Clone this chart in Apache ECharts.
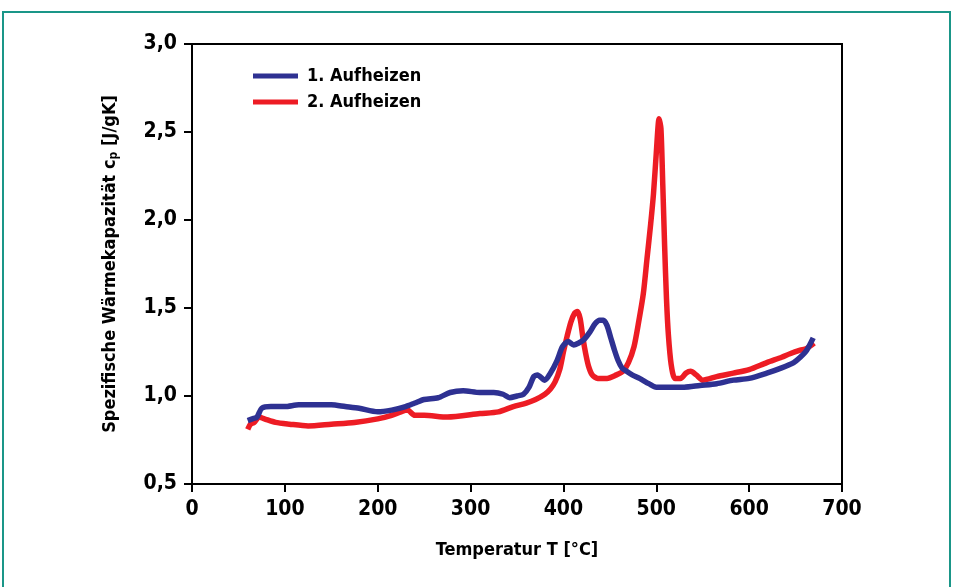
<!DOCTYPE html>
<html>
<head>
<meta charset="utf-8">
<script src="https://cdn.jsdelivr.net/npm/echarts@6/dist/echarts.min.js"></script>
<style>
  html, body { margin: 0; padding: 0; background: #ffffff; }
  #chart { width: 954px; height: 587px; }
</style>
</head>
<body>
<div id="chart"></div>
<script>
// Specific heat capacity, first heating run
const run1Temp = [60, 65, 70, 75, 85, 100, 115, 130, 150, 165, 180, 200, 215, 230, 240, 250, 265, 278, 292, 310, 325, 335, 342, 350, 357, 363, 368, 372, 380, 386, 393, 399, 405, 411, 416, 422, 428, 434, 439, 443, 447, 451, 455, 459, 463, 468, 474, 482, 492, 500, 515, 530, 547, 565, 583, 600, 619, 635, 648, 655, 662, 669];
const run1Cp   = [0.86, 0.87, 0.88, 0.93, 0.94, 0.94, 0.95, 0.95, 0.95, 0.94, 0.93, 0.91, 0.92, 0.94, 0.96, 0.98, 0.99, 1.02, 1.03, 1.02, 1.02, 1.01, 0.99, 1.00, 1.01, 1.05, 1.11, 1.12, 1.09, 1.13, 1.20, 1.28, 1.31, 1.29, 1.30, 1.32, 1.36, 1.41, 1.43, 1.43, 1.40, 1.33, 1.26, 1.20, 1.16, 1.14, 1.12, 1.10, 1.07, 1.05, 1.05, 1.05, 1.06, 1.07, 1.09, 1.10, 1.13, 1.16, 1.19, 1.22, 1.26, 1.33];

// Specific heat capacity, second heating run
const run2Temp = [60, 63, 67, 72, 78, 90, 105, 125, 150, 175, 200, 215, 225, 232, 240, 250, 275, 310, 330, 346, 360, 370, 380, 386, 391, 396, 400, 404, 408, 412, 415, 418, 421, 424, 427, 431, 437, 447, 457, 464, 470, 476, 481, 486, 490, 494, 497, 500, 503, 505, 507, 509, 511, 513, 516, 520, 526, 532, 537, 543, 550, 565, 583, 600, 619, 635, 644, 655, 662, 670];
const run2Cp   = [0.81, 0.84, 0.85, 0.88, 0.87, 0.85, 0.84, 0.83, 0.84, 0.85, 0.87, 0.89, 0.91, 0.92, 0.89, 0.89, 0.88, 0.90, 0.91, 0.94, 0.96, 0.98, 1.01, 1.04, 1.08, 1.15, 1.25, 1.34, 1.42, 1.47, 1.48, 1.44, 1.33, 1.24, 1.17, 1.12, 1.10, 1.10, 1.12, 1.14, 1.19, 1.28, 1.42, 1.58, 1.78, 1.98, 2.15, 2.38, 2.575, 2.52, 2.20, 1.85, 1.55, 1.35, 1.18, 1.10, 1.10, 1.13, 1.14, 1.12, 1.09, 1.11, 1.13, 1.15, 1.19, 1.22, 1.24, 1.26, 1.27, 1.30];

const seriesNames = ['1. Aufheizen', '2. Aufheizen'];
const xTitle = 'Temperatur T [°C]';

const FONT = '"DejaVu Sans Condensed", "Liberation Sans", sans-serif';
const BLUE = '#2e3192';
const RED = '#ed1c24';

const pairs = (xs, ys) => xs.map((x, i) => [x, ys[i]]);

const chart = echarts.init(document.getElementById('chart'));
chart.setOption({
  animation: false,
  backgroundColor: '#ffffff',
  textStyle: { fontFamily: FONT, fontWeight: 'bold', color: '#000' },
  graphic: [{
    type: 'rect',
    shape: { x: 3, y: 12, width: 947, height: 600 },
    style: { fill: 'none', stroke: '#1a9688', lineWidth: 2 },
    silent: true,
    z: -1
  }],
  grid: {
    left: 192, right: 112, top: 44, bottom: 103,
    show: true, borderColor: '#000', borderWidth: 2, backgroundColor: 'transparent'
  },
  legend: {
    orient: 'vertical',
    left: 248, top: 62,
    icon: 'rect',
    itemWidth: 45, itemHeight: 5, itemGap: 8,
    textStyle: { fontFamily: FONT, fontWeight: 'bold', fontSize: 18, color: '#000', padding: [0, 0, 0, 4] },
    data: seriesNames
  },
  xAxis: {
    type: 'value',
    min: 0, max: 700, interval: 100,
    name: xTitle,
    nameLocation: 'middle',
    nameGap: 57,
    nameTextStyle: { fontFamily: FONT, fontWeight: 'bold', fontSize: 18, color: '#000' },
    axisLine: { show: true, lineStyle: { color: '#000', width: 2 } },
    axisTick: { show: true, inside: false, length: 8, lineStyle: { color: '#000', width: 2 } },
    axisLabel: { margin: 15, fontFamily: FONT, fontWeight: 'bold', fontSize: 21, color: '#000' },
    splitLine: { show: false }
  },
  yAxis: {
    type: 'value',
    min: 0.5, max: 3.0, interval: 0.5,
    name: '{t|Spezifische Wärmekapazität c}{s|p}{t| [J/gK]}',
    nameLocation: 'middle',
    nameGap: 72,
    nameRotate: 90,
    nameTextStyle: {
      rich: {
        t: { fontFamily: FONT, fontWeight: 'bold', fontSize: 18, color: '#000' },
        s: { fontFamily: FONT, fontWeight: 'bold', fontSize: 12, color: '#000', verticalAlign: 'bottom', padding: [8, 0, 0, 0] }
      }
    },
    axisLine: { show: true, lineStyle: { color: '#000', width: 2 } },
    axisTick: { show: true, inside: false, length: 8, lineStyle: { color: '#000', width: 2 } },
    axisLabel: {
      margin: 15, fontFamily: FONT, fontWeight: 'bold', fontSize: 21, color: '#000',
      formatter: v => v.toFixed(1).replace('.', ',')
    },
    splitLine: { show: false }
  },
  series: [
    {
      name: seriesNames[0], type: 'line', data: pairs(run1Temp, run1Cp),
      showSymbol: false, smooth: 0.25,
      lineStyle: { color: BLUE, width: 5.5 }, itemStyle: { color: BLUE }, z: 3
    },
    {
      name: seriesNames[1], type: 'line', data: pairs(run2Temp, run2Cp),
      showSymbol: false, smooth: 0.25,
      lineStyle: { color: RED, width: 5.5 }, itemStyle: { color: RED }, z: 2
    }
  ]
});
</script>
</body>
</html>
